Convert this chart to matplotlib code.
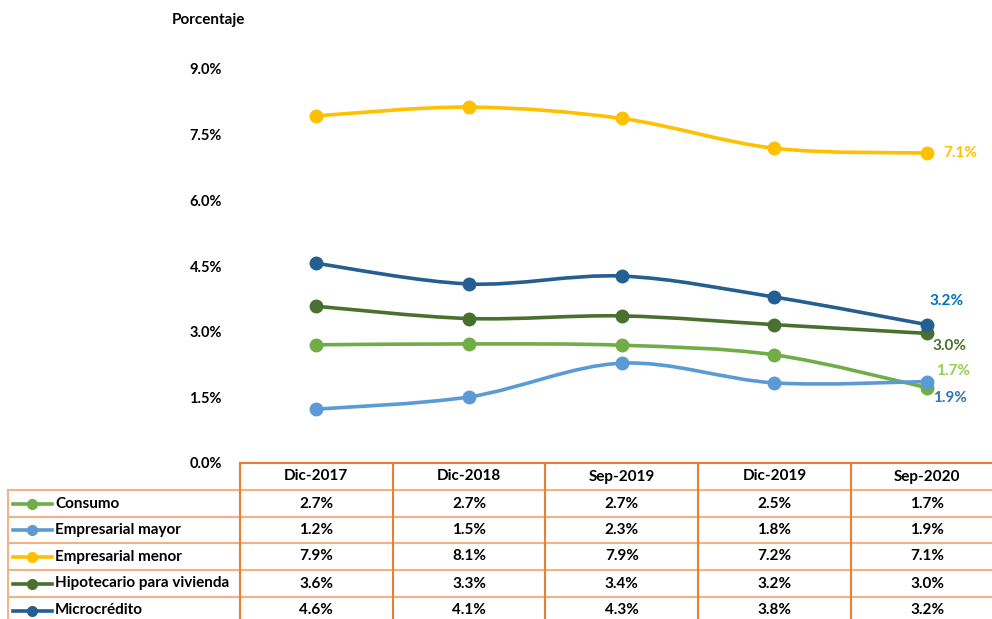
import matplotlib.pyplot as plt
import numpy as np
from matplotlib.path import Path
import matplotlib.patches as patches
from matplotlib.lines import Line2D

plt.rcParams['font.family'] = ['Lato', 'DejaVu Sans']

# Datos
periodos = ['Dic-2017', 'Dic-2018', 'Sep-2019', 'Dic-2019', 'Sep-2020']
series = ['Consumo', 'Empresarial mayor', 'Empresarial menor',
          'Hipotecario para vivienda', 'Microcrédito']
consumo = [2.70, 2.72, 2.69, 2.47, 1.72]
emp_mayor = [1.23, 1.51, 2.28, 1.83, 1.86]
emp_menor = [7.93, 8.13, 7.87, 7.19, 7.08]
hipotecario = [3.58, 3.30, 3.36, 3.16, 2.96]
microcredito = [4.56, 4.09, 4.27, 3.79, 3.16]
valores = [consumo, emp_mayor, emp_menor, hipotecario, microcredito]
yticks = [0, 1.5, 3.0, 4.5, 6.0, 7.5, 9.0]

colores = ['#70AD47', '#5B9BD5', '#FFC000', '#4A7030', '#255E91']
colores_etiqueta = ['#92D050', '#2E75B6', '#FFC000', '#4A7030', '#0070C0']
# desplazamiento (px) de la etiqueta del ultimo punto
offs = [(9, 17), (6, -16), (16, 0), (5, -13), (2, 24)]

W, H = 992, 619
fs = 11
fig = plt.figure(figsize=(W / 100, H / 100), dpi=100)

x0, x1 = 240, 1003.5
ax = fig.add_axes([x0 / W, 1 - 463 / H, (x1 - x0) / W, (463 - 69) / H])
ax.set_xlim(-0.5, 4.5)
ax.set_ylim(0, 9)
ax.patch.set_alpha(0)
for s in ax.spines.values():
    s.set_visible(False)
ax.set_xticks([])
ax.set_yticks(yticks)
ax.set_yticklabels([f'{t:.1f}%' for t in yticks], fontsize=10.5, fontweight='bold')
ax.tick_params(axis='y', length=0, pad=13)
fig.text(172 / W, 1 - 20 / H, 'Porcentaje', fontsize=fs, fontweight='bold',
         ha='left', va='center')


def suave(xs, ys):
    # curva tipo Catmull-Rom (suavizado de Excel)
    pts = np.column_stack([xs, ys])
    n = len(pts)
    verts = [pts[0]]
    codes = [Path.MOVETO]
    for i in range(n - 1):
        p0 = pts[max(i - 1, 0)]
        p1 = pts[i]
        p2 = pts[i + 1]
        p3 = pts[min(i + 2, n - 1)]
        c1 = p1 + (p2 - p0) / 6
        c2 = p2 - (p3 - p1) / 6
        verts += [c1, c2, p2]
        codes += [Path.CURVE4] * 3
    return Path(verts, codes)


xs = np.arange(len(periodos))
for vals, c, ce, (dx, dy) in zip(valores, colores, colores_etiqueta, offs):
    ax.add_patch(patches.PathPatch(suave(xs, vals), facecolor='none', edgecolor=c,
                                   lw=2.6, capstyle='round', zorder=2))
    ax.plot(xs, vals, 'o', color=c, markersize=9, zorder=3)
    ax.annotate(f'{vals[-1]:.1f}%', (xs[-1], vals[-1]), xytext=(dx * 0.72, dy * 0.72),
                textcoords='offset points', color=ce, fontsize=fs, fontweight='bold',
                ha='left', va='center')

# Tabla
tb = fig.add_axes([0, 0, 1, 1])
tb.set_xlim(0, W)
tb.set_ylim(H, 0)
tb.axis('off')
tb.patch.set_alpha(0)

col_w = (x1 - x0) / 5
naranja = '#ED7D31'
naranja_cl = '#F4B183'
filas = [463, 490, 517, 543, 570, 597, 624]

# lineas horizontales
tb.plot([x0, x1 + 10], [filas[0], filas[0]], color=naranja, lw=1.5)
for y in filas[1:-1]:
    tb.plot([8, x1 + 10], [y, y], color=naranja_cl, lw=1.5)
tb.plot([8, 8], [filas[1], H + 5], color=naranja_cl, lw=1.5)
for i in range(6):
    xv = x0 + i * col_w
    tb.plot([xv, xv], [filas[0], H + 5], color=naranja, lw=1.5)

for i, p in enumerate(periodos):
    tb.text(x0 + (i + 0.5) * col_w, (filas[0] + filas[1]) / 2, p, ha='center',
            va='center', fontsize=fs, fontweight='bold')

for r, (nombre, vals, c) in enumerate(zip(series, valores, colores)):
    yc = (filas[r + 1] + filas[r + 2]) / 2
    tb.add_line(Line2D([13, 52], [yc, yc], color=c, lw=2.6))
    tb.plot([32], [yc], 'o', color=c, markersize=7)
    tb.text(55, yc, nombre, ha='left', va='center', fontsize=fs, fontweight='bold')
    for i, v in enumerate(vals):
        tb.text(x0 + (i + 0.5) * col_w, yc, f'{v:.1f}%', ha='center', va='center',
                fontsize=fs, fontweight='bold')

fig.savefig('out.png', dpi=100)
